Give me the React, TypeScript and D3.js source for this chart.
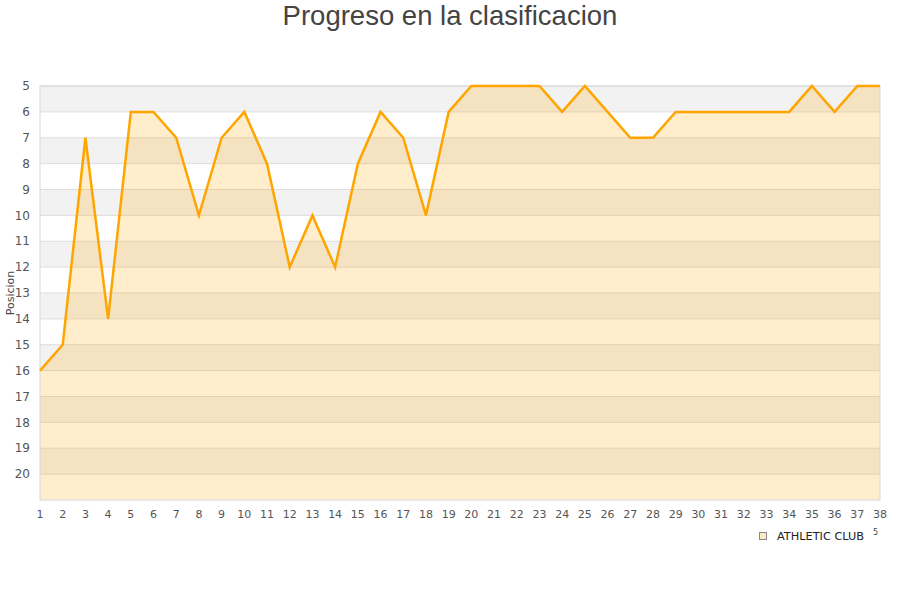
import { useEffect, useRef } from "react";
import * as d3 from "d3";

// Jornadas 1..38 and position after each one
const matchdays = d3.range(1, 39);
const positions = [
  16, 15, 7, 14, 6, 6, 7, 10, 7, 6,
  8, 12, 10, 12, 8, 6, 7, 10, 6, 5,
  5, 5, 5, 6, 5, 6, 7, 7, 6, 6,
  6, 6, 6, 6, 5, 6, 5, 5,
];
const yTicks = d3.range(5, 21);
const teamName = "ATHLETIC CLUB";

export default function App() {
  const ref = useRef<SVGSVGElement>(null);

  useEffect(() => {
    if (!ref.current) return;
    const width = 900;
    const height = 600;
    const left = 40, right = 880, top = 86, bottom = 500;
    const font = "DejaVu Sans, sans-serif";

    const svg = d3.select(ref.current);
    svg.selectAll("*").remove();

    const x = d3.scaleLinear().domain([1, 38]).range([left, right]);
    const y = d3.scaleLinear().domain([5, 21]).range([top, bottom]);

    const data = matchdays.map((d, i) => ({ day: d, pos: positions[i] }));

    // Title
    svg.append("text")
      .attr("x", width / 2)
      .attr("y", 25)
      .attr("text-anchor", "middle")
      .style("font-family", "Liberation Sans, Arial, sans-serif")
      .style("font-size", "27.5px")
      .style("fill", "#444")
      .text("Progreso en la clasificacion");

    // Alternating bands
    svg.append("g")
      .selectAll("rect")
      .data(d3.range(5, 21).filter((v) => (v - 5) % 2 === 0))
      .enter()
      .append("rect")
      .attr("x", left)
      .attr("width", right - left)
      .attr("y", (d) => y(d))
      .attr("height", (d) => y(d + 1) - y(d))
      .attr("fill", "#f2f2f2");

    // Grid lines
    svg.append("g")
      .selectAll("line")
      .data(yTicks)
      .enter()
      .append("line")
      .attr("x1", left)
      .attr("x2", right)
      .attr("y1", (d) => y(d))
      .attr("y2", (d) => y(d))
      .attr("stroke", "#dddddd")
      .attr("stroke-width", 1);

    // Area
    const area = d3.area<{ day: number; pos: number }>()
      .x((d) => x(d.day))
      .y0(y(21))
      .y1((d) => y(d.pos));
    svg.append("path")
      .datum(data)
      .attr("d", area)
      .attr("fill", "#ffa500")
      .attr("fill-opacity", 0.2);

    // Plot border
    svg.append("rect")
      .attr("x", left)
      .attr("y", top)
      .attr("width", right - left)
      .attr("height", bottom - top)
      .attr("fill", "none")
      .attr("stroke", "#d8d8d8")
      .attr("stroke-width", 1);

    // Line
    const line = d3.line<{ day: number; pos: number }>()
      .x((d) => x(d.day))
      .y((d) => y(d.pos));
    svg.append("path")
      .datum(data)
      .attr("d", line)
      .attr("fill", "none")
      .attr("stroke", "#ffa500")
      .attr("stroke-width", 2.5)
      .attr("stroke-linejoin", "miter");

    // Y tick labels
    svg.append("g")
      .selectAll("text")
      .data(yTicks)
      .enter()
      .append("text")
      .attr("x", 30)
      .attr("y", (d) => y(d))
      .attr("dy", "0.35em")
      .attr("text-anchor", "end")
      .style("font-family", font)
      .style("font-size", "12px")
      .style("fill", "#555")
      .text((d) => d);

    // X tick labels
    svg.append("g")
      .selectAll("text")
      .data(matchdays)
      .enter()
      .append("text")
      .attr("x", (d) => x(d))
      .attr("y", 518)
      .attr("text-anchor", "middle")
      .style("font-family", font)
      .style("font-size", "11px")
      .style("fill", "#555")
      .text((d) => d);

    // Y axis title
    svg.append("text")
      .attr("transform", `translate(14,${(top + bottom) / 2}) rotate(-90)`)
      .attr("text-anchor", "middle")
      .style("font-family", font)
      .style("font-size", "11px")
      .style("fill", "#444")
      .text("Posicion");

    // Legend
    svg.append("rect")
      .attr("x", 759.5)
      .attr("y", 532.5)
      .attr("width", 7)
      .attr("height", 7)
      .attr("fill", "#fde9c6")
      .attr("stroke", "#888")
      .attr("stroke-width", 1);
    svg.append("text")
      .attr("x", 777)
      .attr("y", 540)
      .style("font-family", font)
      .style("font-size", "11.3px")
      .style("fill", "#222")
      .text(teamName);
    svg.append("text")
      .attr("x", 873)
      .attr("y", 535)
      .style("font-family", font)
      .style("font-size", "8px")
      .style("fill", "#444")
      .text("5");
  }, []);

  return (
    <svg
      ref={ref}
      width={900}
      height={600}
      style={{ position: "absolute", left: 0, top: 0, background: "#fff" }}
    />
  );
}
